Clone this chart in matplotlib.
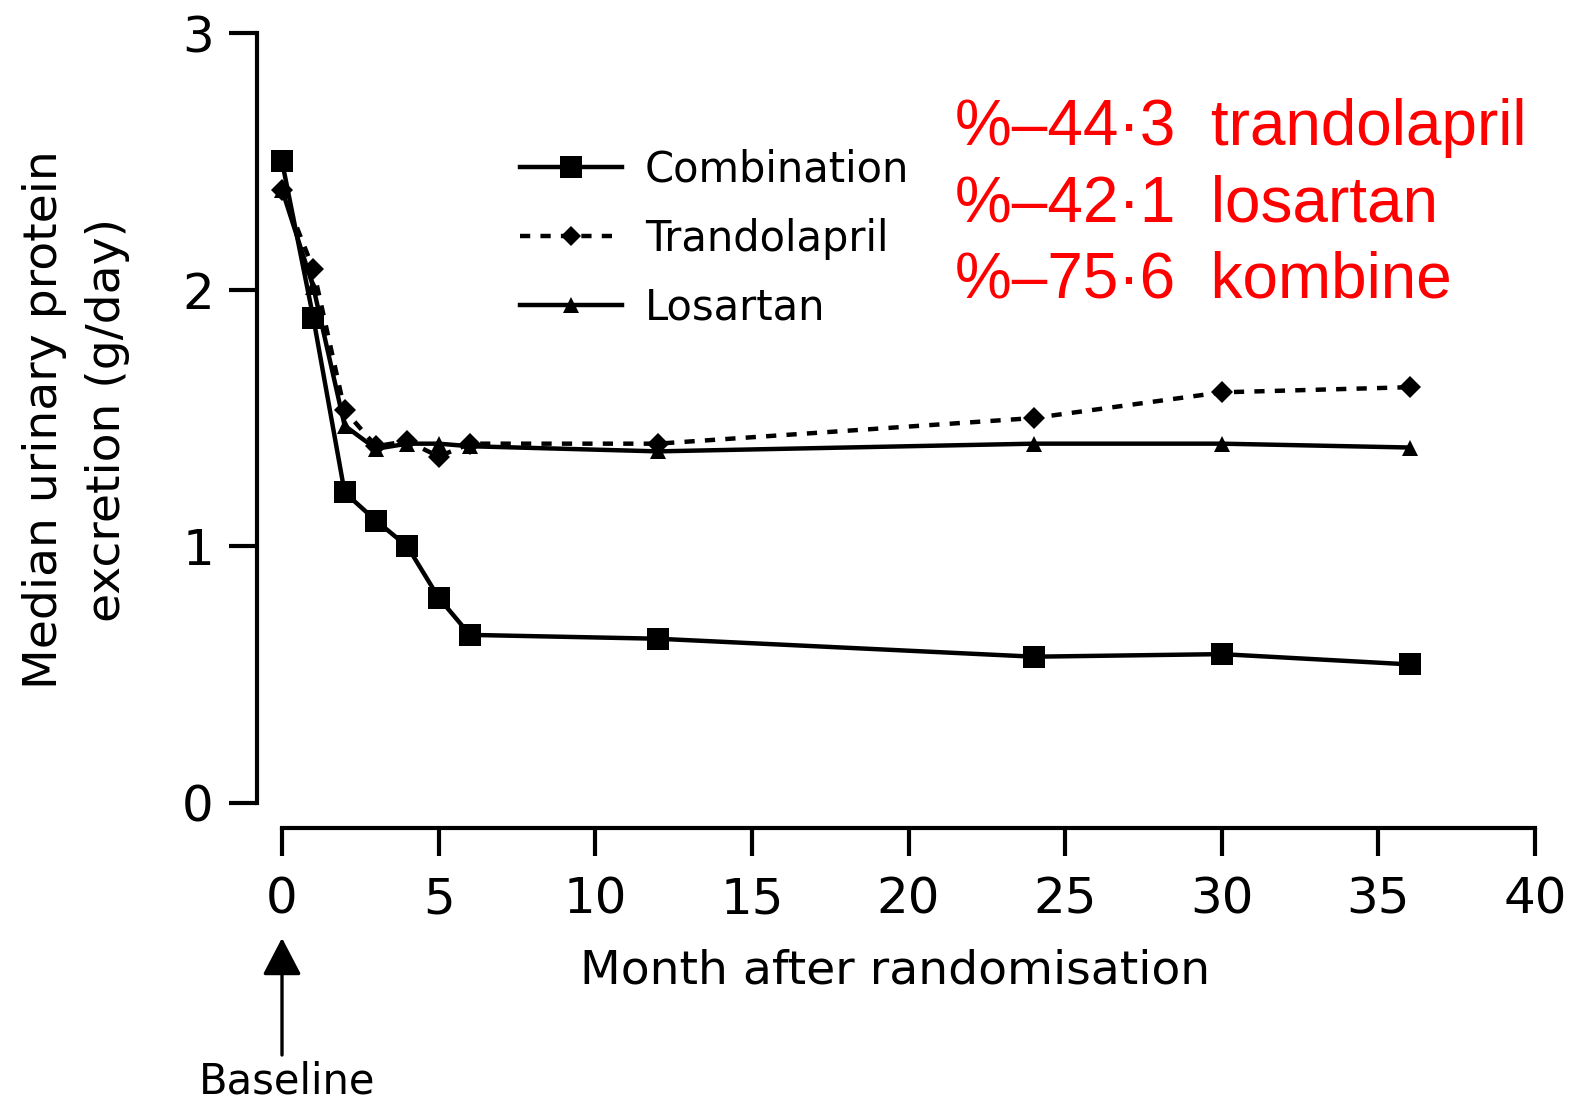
import matplotlib
matplotlib.use('Agg')
import matplotlib.pyplot as plt

# ---- data ----
months = [0, 1, 2, 3, 4, 5, 6, 12, 24, 30, 36]
combination = [2.50, 1.89, 1.21, 1.10, 1.00, 0.80, 0.655, 0.64, 0.57, 0.58, 0.54]
trandolapril = [2.39, 2.08, 1.53, 1.39, 1.41, 1.35, 1.40, 1.40, 1.50, 1.60, 1.62]
losartan = [2.39, 2.01, 1.47, 1.38, 1.40, 1.40, 1.39, 1.37, 1.40, 1.40, 1.385]

series_labels = ["Combination", "Trandolapril", "Losartan"]
x_ticks = [0, 5, 10, 15, 20, 25, 30, 35, 40]
y_ticks = [0, 1, 2, 3]
annotation_lines = ["%\u201344\u00b73  trandolapril",
                    "%\u201342\u00b71  losartan",
                    "%\u201375\u00b76  kombine"]

W, H = 1570, 1105
fig = plt.figure(figsize=(W / 100, H / 100), dpi=100)
plt.rcParams['font.family'] = ['DejaVu Sans']

ax = fig.add_axes([282 / W, (H - 803) / H, (1535 - 282) / W, 770 / H])
ax.set_xlim(0, 40)
ax.set_ylim(0, 3)

lw = 3.2
l_los, = ax.plot(months, losartan, color='black', lw=lw, marker='^', ms=12,
                 mew=0, clip_on=False, zorder=3, label=series_labels[2])
l_tra, = ax.plot(months, trandolapril, color='black', lw=lw,
                 linestyle=(0, (2.3, 2.3)), marker='D', ms=11, mew=0,
                 clip_on=False, zorder=4, label=series_labels[1])
l_com, = ax.plot(months, combination, color='black', lw=lw, marker='s', ms=16,
                 mew=0, clip_on=False, zorder=5, label=series_labels[0])

# spines
for s in ['top', 'right']:
    ax.spines[s].set_visible(False)
for s in ['left', 'bottom']:
    ax.spines[s].set_linewidth(3)
    ax.spines[s].set_position(('outward', 18))
ax.spines['left'].set_bounds(0, 3)
ax.spines['bottom'].set_bounds(0, 40)

ax.set_xticks(x_ticks)
ax.set_yticks(y_ticks)
ax.tick_params(axis='both', length=20, width=3, direction='out',
               labelsize=36, colors='black')
ax.tick_params(axis='y', pad=11)
ax.tick_params(axis='x', pad=14)

ax.set_xlabel("Month after randomisation", fontsize=34)
ax.xaxis.set_label_coords((895 - 282) / 1253, (803 - 948) / 770)
ax.set_ylabel("Median urinary protein\nexcretion (g/day)", fontsize=34,
              linespacing=1.5)
ax.yaxis.set_label_coords((130 - 282) / 1253, (803 - 420) / 770)

# legend
leg = ax.legend(handles=[l_com, l_tra, l_los], loc='upper left',
                bbox_to_anchor=(520 / W, 1 - 149 / H),
                bbox_transform=fig.transFigure, frameon=False,
                fontsize=30, handlelength=2.45, handletextpad=0.55,
                labelspacing=0.64, borderpad=0, borderaxespad=0,
                markerscale=0.95)

# red annotation text
for i, txt in enumerate(annotation_lines):
    yb = [145, 222, 298][i]
    fig.text(955 / W, 1 - yb / H, txt, color='#ff0000', fontsize=46,
             family=['Liberation Sans', 'DejaVu Sans'], ha='left',
             va='baseline')

# Baseline arrow and label
ax.annotate("", xy=(0, (803 - 938) / 770),
            xycoords=('data', 'axes fraction'),
            xytext=(0, (803 - 1055) / 770),
            textcoords=('data', 'axes fraction'),
            annotation_clip=False,
            arrowprops=dict(arrowstyle='-|>,head_length=1.15,head_width=0.6',
                            lw=2.4, color='black', mutation_scale=20,
                            shrinkA=0, shrinkB=0))
ax.text(0.16, (803 - 1093) / 770, "Baseline", transform=ax.get_xaxis_transform(),
        ha='center', va='baseline', fontsize=30, clip_on=False)

fig.savefig('out.png', dpi=100)
